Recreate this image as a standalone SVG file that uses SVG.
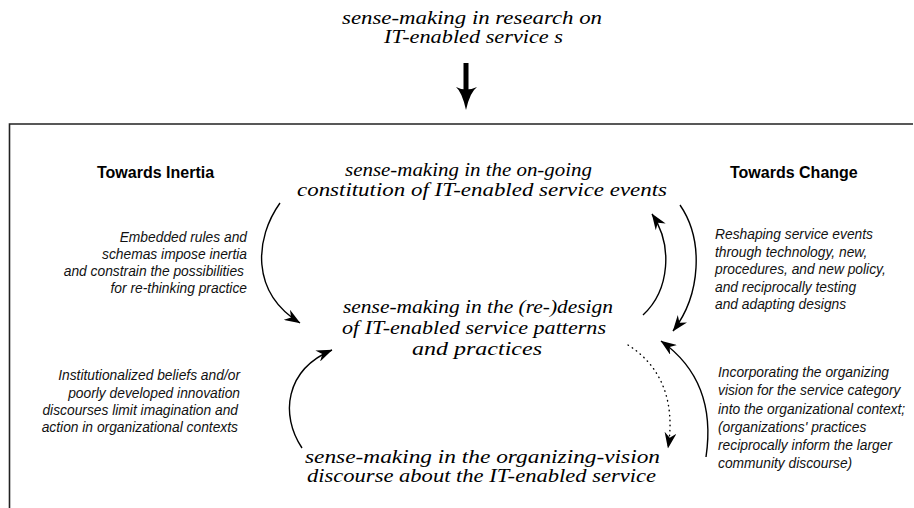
<svg xmlns="http://www.w3.org/2000/svg" width="914" height="508" viewBox="0 0 914 508">
<defs>
<marker id="ah" viewBox="0 0 16 12" refX="15.5" refY="6" markerWidth="16" markerHeight="12" markerUnits="userSpaceOnUse" orient="auto">
<path d="M0,0 L16,6 L0,12 L5,6 Z" fill="#000"/>
</marker>
<style>
.s{font-family:"Liberation Serif","DejaVu Serif",serif;font-style:italic;font-size:19px;fill:#000}
.h{font-family:"Liberation Sans",Arial,sans-serif;font-weight:bold;font-size:16px;fill:#000}
.n{font-family:"Liberation Sans",Arial,sans-serif;font-style:italic;font-size:13.8px;fill:#111}
.c{fill:none;stroke:#000;stroke-width:1.4}
</style>
</defs>
<rect width="914" height="508" fill="#fff"/>
<g id="frame">
<path d="M9.5,508 L9.5,124 L913,124" fill="none" stroke="#222" stroke-width="1.6"/>
</g>
<g id="title">
<text class="s" x="342" y="24" textLength="260" lengthAdjust="spacingAndGlyphs">sense-making in  research on</text>
<text class="s" x="384" y="43" textLength="179" lengthAdjust="spacingAndGlyphs">IT-enabled service s</text>
</g>
<g id="top-arrow">
<rect x="463.5" y="63" width="5" height="28" fill="#000"/>
<path d="M456,87 Q462,92 466,110 Q470,92 477,87 Q466,92 456,87 Z" fill="#000"/>
</g>
<g id="label-inertia"><text class="h" x="97" y="178">Towards Inertia</text></g>
<g id="label-change"><text class="h" x="730" y="178">Towards Change</text></g>
<g id="node-events">
<text class="s" x="345" y="176" textLength="247" lengthAdjust="spacingAndGlyphs">sense-making in the on-going</text>
<text class="s" x="297" y="196" textLength="370" lengthAdjust="spacingAndGlyphs">constitution of IT-enabled service events</text>
</g>
<g id="node-design">
<text class="s" x="343" y="313" textLength="270" lengthAdjust="spacingAndGlyphs">sense-making in the (re-)design</text>
<text class="s" x="342" y="334" textLength="264" lengthAdjust="spacingAndGlyphs">of IT-enabled service patterns</text>
<text class="s" x="412" y="355" textLength="130" lengthAdjust="spacingAndGlyphs">and practices</text>
</g>
<g id="node-vision">
<text class="s" x="305" y="463" textLength="355" lengthAdjust="spacingAndGlyphs">sense-making in the organizing-vision</text>
<text class="s" x="307" y="482" textLength="349" lengthAdjust="spacingAndGlyphs">discourse about  the IT-enabled service</text>
</g>
<g id="text-inertia-1" text-anchor="end">
<text class="n" x="247" y="242">Embedded rules and</text>
<text class="n" x="247" y="259">schemas impose inertia</text>
<text class="n" x="244" y="276">and constrain the possibilities</text>
<text class="n" x="247" y="293">for re-thinking practice</text>
</g>
<g id="text-inertia-2" text-anchor="end">
<text class="n" x="240" y="380">Institutionalized beliefs and/or</text>
<text class="n" x="240" y="397.5">poorly developed innovation</text>
<text class="n" x="238" y="415">discourses limit imagination and</text>
<text class="n" x="238" y="432">action in organizational contexts</text>
</g>
<g id="text-change-1">
<text class="n" x="715" y="239">Reshaping service events</text>
<text class="n" x="715" y="256.5">through technology, new,</text>
<text class="n" x="715" y="274">procedures, and new policy,</text>
<text class="n" x="715" y="291.5">and reciprocally testing</text>
<text class="n" x="715" y="309">and adapting designs</text>
</g>
<g id="text-change-2">
<text class="n" x="718" y="377">Incorporating the organizing</text>
<text class="n" x="718" y="395">vision for the service category</text>
<text class="n" x="718" y="413.5">into the organizational context;</text>
<text class="n" x="718" y="432">(organizations' practices</text>
<text class="n" x="718" y="450">reciprocally inform the larger</text>
<text class="n" x="718" y="468">community discourse)</text>
</g>
<g id="connectors">
<path class="c" d="M280,203 C255,238 250,292 300,323" marker-end="url(#ah)"/>
<path class="c" d="M643,315 C670,290 673,245 652,214" marker-end="url(#ah)"/>
<path class="c" d="M680,205 C704,240 701,295 673,331" marker-end="url(#ah)"/>
<path class="c" d="M628,345 C660,365 676,400 668,448" stroke-width="2.2" stroke-linecap="round" stroke-dasharray="0.5,4.5" marker-end="url(#ah)"/>
<path class="c" d="M706,457 C713,410 702,370 661,341" marker-end="url(#ah)"/>
<path class="c" d="M302,448 C280,415 285,370 332,350" marker-end="url(#ah)"/>
</g>
</svg>
